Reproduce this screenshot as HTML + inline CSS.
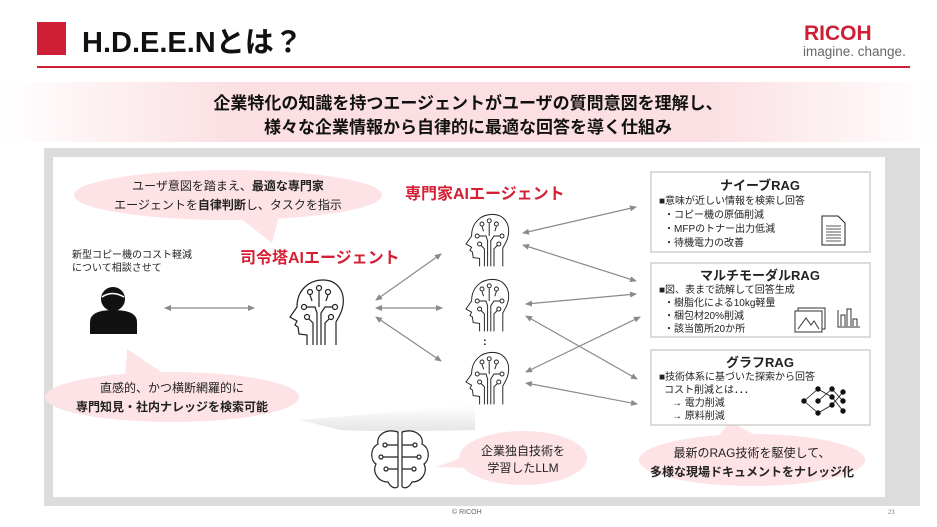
<!DOCTYPE html>
<html><head><meta charset="utf-8"><style>
html,body{margin:0;padding:0;background:#fff;}
svg{display:block;font-family:"Liberation Sans","Noto Sans CJK JP",sans-serif;}
</style></head><body>
<svg width="937" height="527" viewBox="0 0 937 527" xmlns="http://www.w3.org/2000/svg">
<defs>
<linearGradient id="bn" x1="0" x2="1" y1="0" y2="0">
<stop offset="0" stop-color="#fff"/><stop offset="0.25" stop-color="#fbdfe2"/><stop offset="0.75" stop-color="#fbdfe2"/><stop offset="1" stop-color="#fff"/>
</linearGradient>
<linearGradient id="sh" x1="0" x2="0" y1="0" y2="1">
<stop offset="0" stop-color="#fff"/><stop offset="1" stop-color="#e6e6e6"/>
</linearGradient>
<marker id="ah" markerWidth="8" markerHeight="8" refX="6" refY="4" orient="auto-start-reverse" markerUnits="userSpaceOnUse">
<path d="M0,1 L7,4 L0,7 z" fill="#8a8a8a"/>
</marker>
<g id="head" fill="none" stroke="#222" stroke-width="1.2">
<path d="M22 68 L22 58 L14 57 L13 50 L10 48 L12 44 L5 40 L12 30 C12 12 25 3 38 3 C52 3 60 14 58 28 C57 36 53 41 51 45 L51 68"/>
<circle cx="25" cy="15" r="2.5"/><circle cx="34" cy="11" r="2.5"/><circle cx="43" cy="15" r="2.5"/>
<circle cx="19" cy="30" r="2.5"/><circle cx="50" cy="30" r="2.5"/><circle cx="22" cy="40" r="2.5"/><circle cx="46" cy="40" r="2.5"/>
<path d="M34 14 L34 30 M25 18 L27 24 M43 18 L41 24 M22 30 L30 30 L32 36 L32 68 M36 68 L36 36 L40 30 L48 30 M24 42 L28 46 L28 68 M40 68 L40 46 L44 42"/>
</g>
</defs>
<!-- header -->
<rect x="37" y="22" width="29" height="33" fill="#cf1f36"/>
<text x="82" y="52" font-size="29" font-weight="bold" fill="#111">H.D.E.E.Nとは？</text>
<text x="804" y="40" font-size="21" font-weight="bold" fill="#cf1f36">RICOH</text>
<text x="803" y="56" font-size="13.5" fill="#666">imagine. change.</text>
<rect x="37" y="66" width="873" height="2" fill="#cf1f36"/>
<rect x="0" y="82" width="937" height="60" fill="url(#bn)"/>
<text x="468" y="109" font-size="17" font-weight="bold" text-anchor="middle" fill="#111">企業特化の知識を持つエージェントがユーザの質問意図を理解し、</text>
<text x="468" y="133" font-size="17" font-weight="bold" text-anchor="middle" fill="#111">様々な企業情報から自律的に最適な回答を導く仕組み</text>
<!-- frame -->
<rect x="44" y="148" width="876" height="358" fill="#dcdcdc"/>
<rect x="53" y="157" width="832" height="340" fill="#fff"/>
<!-- shadow fan -->
<path d="M300 420 L475 405 L475 430 Q380 432 340 430 Z" fill="url(#sh)"/>
<!-- bubbles -->
<g fill="#fde3e6">
<ellipse cx="228" cy="195" rx="154" ry="25"/>
<path d="M230 210 L272 243 L280 212 Z"/>
<ellipse cx="172" cy="397" rx="127" ry="25"/>
<path d="M125 380 L127 349 L170 378 Z"/>
<ellipse cx="523" cy="458" rx="64" ry="27"/>
<path d="M470 455 L436 467 L472 468 Z"/>
<ellipse cx="752" cy="460" rx="113" ry="26"/>
<path d="M715 440 L730 422 L765 440 Z"/>
</g>
<text x="228" y="190" font-size="12" text-anchor="middle" fill="#222">ユーザ意図を踏まえ、<tspan font-weight="bold">最適な専門家</tspan></text>
<text x="228" y="209" font-size="12" text-anchor="middle" fill="#222">エージェントを<tspan font-weight="bold">自律判断</tspan>し、タスクを指示</text>
<text x="172" y="392" font-size="12" text-anchor="middle" fill="#222">直感的、かつ横断網羅的に</text>
<text x="172" y="411" font-size="12" font-weight="bold" text-anchor="middle" fill="#222">専門知見・社内ナレッジを検索可能</text>
<text x="523" y="455" font-size="12" text-anchor="middle" fill="#222">企業独自技術を</text>
<text x="523" y="472" font-size="12" text-anchor="middle" fill="#222">学習したLLM</text>
<text x="752" y="457" font-size="12" text-anchor="middle" fill="#222">最新のRAG技術を駆使して、</text>
<text x="752" y="476" font-size="12" font-weight="bold" text-anchor="middle" fill="#222">多様な現場ドキュメントをナレッジ化</text>
<!-- person -->
<text x="72" y="258" font-size="10" fill="#222">新型コピー機のコスト軽減</text>
<text x="72" y="271" font-size="10" fill="#222">について相談させて</text>
<circle cx="113" cy="299" r="12" fill="#111"/>
<path d="M102 297 Q112 290 124 297" stroke="#fff" stroke-width="1.5" fill="none"/>
<path d="M90 334 L90 322 Q90 310 113 310 Q137 310 137 322 L137 334 Z" fill="#111"/>
<line x1="165" y1="308" x2="254" y2="308" stroke="#8a8a8a" stroke-width="1.2" marker-start="url(#ah)" marker-end="url(#ah)"/>
<!-- central -->
<text x="240" y="263" font-size="16" font-weight="bold" fill="#d51f35">司令塔AIエージェント</text>
<use href="#head" x="285" y="277"/>
<g stroke="#8a8a8a" stroke-width="1.2" marker-start="url(#ah)" marker-end="url(#ah)">
<line x1="376" y1="300" x2="441" y2="254"/>
<line x1="376" y1="308" x2="442" y2="308"/>
<line x1="376" y1="317" x2="441" y2="361"/>
</g>
<text x="405" y="199" font-size="16" font-weight="bold" fill="#d51f35">専門家AIエージェント</text>
<g transform="translate(462,212) scale(0.8)"><use href="#head"/></g>
<g transform="translate(462,277) scale(0.8)"><use href="#head"/></g>
<g transform="translate(462,350) scale(0.8)"><use href="#head"/></g>
<text x="483" y="345" font-size="11" font-weight="bold" fill="#222">:</text>
<g stroke="#8a8a8a" stroke-width="1.2" marker-start="url(#ah)" marker-end="url(#ah)">
<line x1="523" y1="233" x2="636" y2="207"/>
<line x1="523" y1="245" x2="636" y2="281"/>
<line x1="526" y1="304" x2="636" y2="294"/>
<line x1="526" y1="316" x2="637" y2="379"/>
<line x1="526" y1="372" x2="640" y2="317"/>
<line x1="526" y1="383" x2="637" y2="404"/>
</g>
<!-- boxes -->
<g fill="#fff" stroke="#c8c8c8" stroke-width="1.3">
<rect x="651" y="172" width="219" height="80"/>
<rect x="651" y="263" width="219" height="74"/>
<rect x="651" y="350" width="219" height="75"/>
</g>
<g font-size="10" fill="#222">
<text x="760" y="190" font-size="13" font-weight="bold" text-anchor="middle">ナイーブRAG</text>
<text x="659" y="204">■意味が近しい情報を検索し回答</text>
<text x="664" y="218">・コピー機の原価削減</text>
<text x="664" y="232">・MFPのトナー出力低減</text>
<text x="664" y="246">・待機電力の改善</text>
<text x="760" y="280" font-size="13" font-weight="bold" text-anchor="middle">マルチモーダルRAG</text>
<text x="659" y="293">■図、表まで読解して回答生成</text>
<text x="664" y="306">・樹脂化による10kg軽量</text>
<text x="664" y="319">・梱包材20%削減</text>
<text x="664" y="332">・該当箇所20か所</text>
<text x="760" y="367" font-size="13" font-weight="bold" text-anchor="middle">グラフRAG</text>
<text x="659" y="380">■技術体系に基づいた探索から回答</text>
<text x="664" y="393">コスト削減とは．．．</text>
<text x="672" y="406">→ 電力削減</text>
<text x="672" y="419">→ 原料削減</text>
</g>
<!-- doc icon -->
<path d="M822 216 L838 216 L845 223 L845 245 L822 245 Z" fill="none" stroke="#222" stroke-width="1"/>
<path d="M826 226 H841 M826 229 H841 M826 232 H841 M826 235 H841 M826 238 H841 M826 241 H841" stroke="#222" stroke-width="0.8"/>
<!-- image/chart icons -->
<rect x="798" y="308" width="27" height="21" fill="none" stroke="#333"/>
<rect x="795" y="311" width="27" height="21" fill="#fff" stroke="#333"/>
<path d="M798 329 L806 318 L811 325 L814 321 L819 329" fill="none" stroke="#333"/>
<path d="M838 310 V327 H860 M841 326 V315 H845 V326 M847 326 V309 H851 V326 M853 326 V319 H857 V326" fill="none" stroke="#333"/>
<!-- network -->
<g fill="#111" stroke="#111" stroke-width="0.8">
<line x1="804" y1="401" x2="818" y2="389"/><line x1="804" y1="401" x2="818" y2="413"/><line x1="818" y1="389" x2="832" y2="397"/><line x1="818" y1="413" x2="832" y2="405"/>
<line x1="818" y1="401" x2="832" y2="389"/><line x1="832" y1="397" x2="843" y2="411"/><line x1="832" y1="405" x2="843" y2="392"/><line x1="832" y1="389" x2="843" y2="401"/>
<circle cx="804" cy="401" r="2.3"/><circle cx="818" cy="389" r="2.3"/><circle cx="818" cy="401" r="2.3"/><circle cx="818" cy="413" r="2.3"/>
<circle cx="832" cy="389" r="2.3"/><circle cx="832" cy="397" r="2.3"/><circle cx="832" cy="405" r="2.3"/><circle cx="843" cy="392" r="2.3"/><circle cx="843" cy="401" r="2.3"/><circle cx="843" cy="411" r="2.3"/>
</g>
<!-- brain -->
<g fill="none" stroke="#222" stroke-width="1.2">
<path d="M398 432 C385 428 376 436 378 444 C370 448 370 460 376 464 C372 472 378 482 388 482 C392 490 398 488 398 486 Z"/>
<path d="M402 432 C415 428 424 436 422 444 C430 448 430 460 424 464 C428 472 422 482 412 482 C408 490 402 488 402 486 Z"/>
<path d="M387 445 H398 M383 457 H398 M388 469 H398 M413 445 H402 M417 457 H402 M412 469 H402"/>
<circle cx="385" cy="445" r="2"/><circle cx="381" cy="457" r="2"/><circle cx="386" cy="469" r="2"/><circle cx="415" cy="445" r="2"/><circle cx="419" cy="457" r="2"/><circle cx="414" cy="469" r="2"/>
</g>
<text x="452" y="514" font-size="7" fill="#666">© RICOH</text>
<text x="888" y="514" font-size="6" fill="#888">23</text>
</svg>
</body></html>
